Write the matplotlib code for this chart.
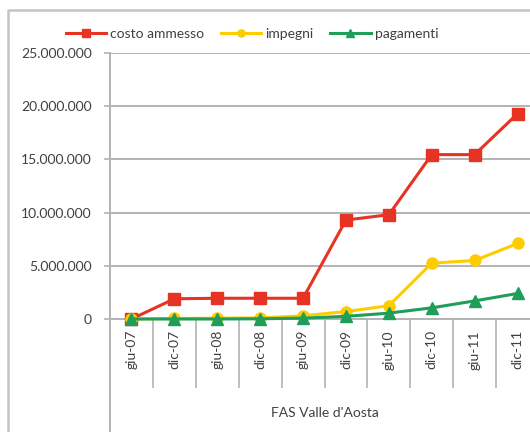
import numpy as np
import matplotlib.pyplot as plt
from matplotlib.lines import Line2D
from matplotlib.ticker import FuncFormatter, FixedLocator

# data
periodi = ['giu-07', 'dic-07', 'giu-08', 'dic-08', 'giu-09',
           'dic-09', 'giu-10', 'dic-10', 'giu-11', 'dic-11']
costo_ammesso = [0, 1900000, 1950000, 1950000, 1950000,
                 9300000, 9800000, 15450000, 15450000, 19300000]
impegni = [0, 50000, 80000, 100000, 300000,
           700000, 1250000, 5250000, 5500000, 7100000]
pagamenti = [0, 0, 0, 20000, 80000,
             250000, 550000, 1050000, 1700000, 2400000]

plt.rcParams['font.family'] = ['Lato', 'DejaVu Sans']

fig = plt.figure(figsize=(5.3, 4.32), dpi=100)
W, H = 530, 432
ax = fig.add_axes([110 / W, (H - 319) / H, (539 - 110) / W, (319 - 53) / H])

x = np.arange(len(periodi)) + 0.5
ax.plot(x, costo_ammesso, color='#e63323', lw=2.2, marker='s', ms=8.5,
        label='costo ammesso', clip_on=False, zorder=3)
ax.plot(x, impegni, color='#ffcc00', lw=2.2, marker='o', ms=8,
        label='impegni', clip_on=False, zorder=4)
ax.plot(x, pagamenti, color='#1f9e5a', lw=2.2, marker='^', ms=8.5,
        label='pagamenti', clip_on=False, zorder=5)

ax.set_xlim(0, len(periodi))
ax.set_ylim(0, 25000000)
ax.set_yticks(np.arange(0, 25000001, 5000000))
ax.yaxis.set_major_formatter(FuncFormatter(lambda v, p: f'{int(v):,}'.replace(',', '.')))
ax.grid(axis='y', color='#b3b3b3', lw=1.4)
ax.set_axisbelow(True)

ax.set_xticks(x)
ax.set_xticklabels(periodi, rotation=90)
ax.xaxis.set_minor_locator(FixedLocator(np.arange(1, len(periodi) + 1)))
ax.tick_params(axis='x', which='major', length=0, pad=8, labelsize=10, colors='#404040')
ax.tick_params(axis='x', which='minor', length=50, width=1.2, color='#b3b3b3')
ax.tick_params(axis='y', length=4, width=1.2, color='#b3b3b3', pad=9,
               labelsize=10, labelcolor='#404040')

for s in ['top', 'right', 'left']:
    ax.spines[s].set_visible(False)
ax.spines['bottom'].set_color('#b3b3b3')
ax.spines['bottom'].set_linewidth(1.4)

ax.set_xlabel("FAS Valle d'Aosta", fontsize=10, color='#404040', labelpad=10)

# left vertical axis line running to the bottom
fig.add_artist(Line2D([110 / W, 110 / W], [0, (H - 53) / H], color='#b3b3b3', lw=1.4))
# outer chart border
fig.add_artist(Line2D([8 / W, 8 / W, 1.0], [0, (H - 10) / H, (H - 10) / H],
                      color='#c4c4c4', lw=1.8))

fig.legend(loc='center', bbox_to_anchor=(252 / W, 1 - 34 / H), ncol=3, frameon=False,
           fontsize=10, handlelength=2.9, handletextpad=0.3, columnspacing=1.2,
           markerscale=0.65, labelcolor='#404040')

fig.savefig('out.png', dpi=100)
